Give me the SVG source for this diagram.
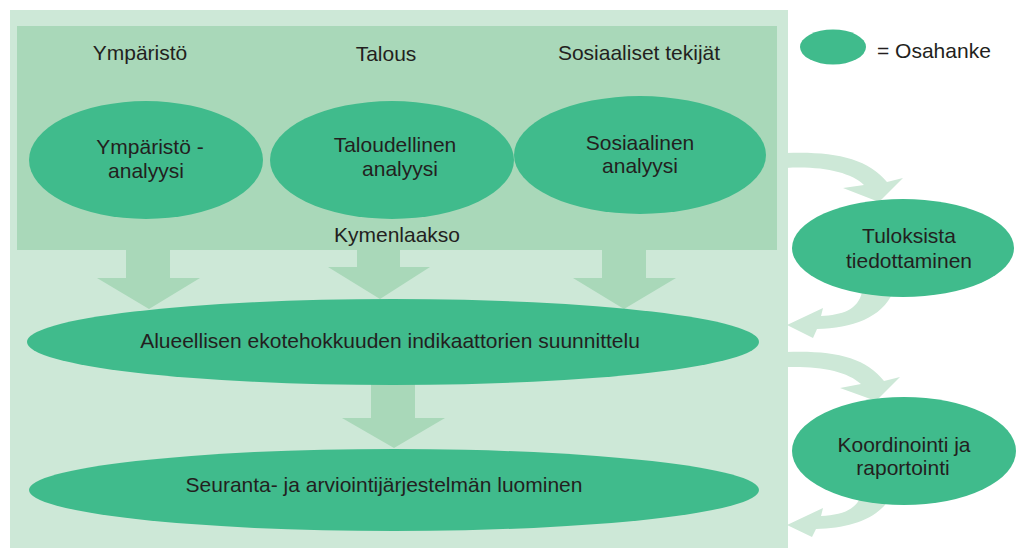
<svg xmlns="http://www.w3.org/2000/svg" width="1019" height="548" viewBox="0 0 1019 548">
  <style>
    .panel-outer { fill: #cde8d7; }
    .panel-inner { fill: #a9d8b9; }
    .node { fill: #40bb8c; }
    .flow { fill: #a9d8b9; }
    .loop { fill: #cde8d7; }
    text { font-family: "Liberation Sans", Arial, sans-serif; font-size: 21px; fill: #231f20; text-anchor: middle; }
    .legend-label { text-anchor: start; }
  </style>

  <!-- background panels -->
  <rect class="panel-outer" x="10" y="10" width="778" height="538"/>
  <rect class="panel-inner" x="17" y="26" width="760" height="224"/>

  <!-- column headings and region label -->
  <text x="140" y="60">Ympäristö</text>
  <text x="386" y="61">Talous</text>
  <text x="639" y="60">Sosiaaliset tekijät</text>
  <text x="397" y="242">Kymenlaakso</text>

  <!-- connectors -->
  <g id="connectors">
    <!-- block arrows down into the indicator planning stage -->
    <polygon class="flow" points="126,250 170,250 170,278 200,278 149,309 97,278 126,278"/>
    <polygon class="flow" points="357,250 400,250 400,267 430,267 380,299 328,267 357,267"/>
    <polygon class="flow" points="602,250 646,250 646,278 676,278 624,309 573,278 602,278"/>
    <!-- block arrow down into the monitoring stage -->
    <polygon class="flow" points="371,384 415,384 415,418 445,418 394,448 342,418 371,418"/>
    <!-- loop out to "Tuloksista tiedottaminen" and back -->
    <path class="loop" d="M786,153 C832,151 868,158 887,182 L903,178 L879,202 L843,188 L864,185 C850,172 822,166 786,168 Z"/>
    <path class="loop" d="M862,292 C858,310 842,315 821,316 L823,308 L787,325 L813,338 L817,329 C852,328 882,318 893,292 Z"/>
    <!-- loop out to "Koordinointi ja raportointi" and back -->
    <path class="loop" d="M786,352 C832,350 866,357 884,381 L900,377 L876,401 L840,388 L861,384 C847,371 820,366 786,367 Z"/>
    <path class="loop" d="M862,492 C858,510 842,515 821,516 L823,508 L787,525 L812,537 L816,529 C852,528 882,518 893,492 Z"/>
  </g>

  <!-- analysis nodes -->
  <g id="node-ymparisto">
    <ellipse class="node" cx="146" cy="160" rx="117" ry="59"/>
    <text x="150" y="154">Ympäristö -</text>
    <text x="146" y="178">analyysi</text>
  </g>
  <g id="node-talous">
    <ellipse class="node" cx="392" cy="160" rx="122" ry="59"/>
    <text x="395" y="152">Taloudellinen</text>
    <text x="400" y="176">analyysi</text>
  </g>
  <g id="node-sosiaalinen">
    <ellipse class="node" cx="640" cy="155" rx="126" ry="59"/>
    <text x="640" y="150">Sosiaalinen</text>
    <text x="640" y="173">analyysi</text>
  </g>

  <!-- planning and monitoring nodes -->
  <g id="node-indikaattorit">
    <ellipse class="node" cx="393" cy="342" rx="366" ry="43"/>
    <text x="390" y="348">Alueellisen ekotehokkuuden indikaattorien suunnittelu</text>
  </g>
  <g id="node-seuranta">
    <ellipse class="node" cx="394" cy="490" rx="365" ry="41"/>
    <text x="384" y="492">Seuranta- ja arviointijärjestelmän luominen</text>
  </g>

  <!-- side nodes -->
  <g id="node-tiedottaminen">
    <ellipse class="node" cx="903" cy="248" rx="111" ry="49"/>
    <text x="909" y="243">Tuloksista</text>
    <text x="909" y="268">tiedottaminen</text>
  </g>
  <g id="node-koordinointi">
    <ellipse class="node" cx="904" cy="451" rx="112" ry="54"/>
    <text x="904" y="452">Koordinointi ja</text>
    <text x="903" y="475">raportointi</text>
  </g>

  <!-- legend -->
  <g id="legend">
    <ellipse class="node" cx="833" cy="47" rx="33" ry="17.5"/>
    <text class="legend-label" x="877" y="58">= Osahanke</text>
  </g>
</svg>
